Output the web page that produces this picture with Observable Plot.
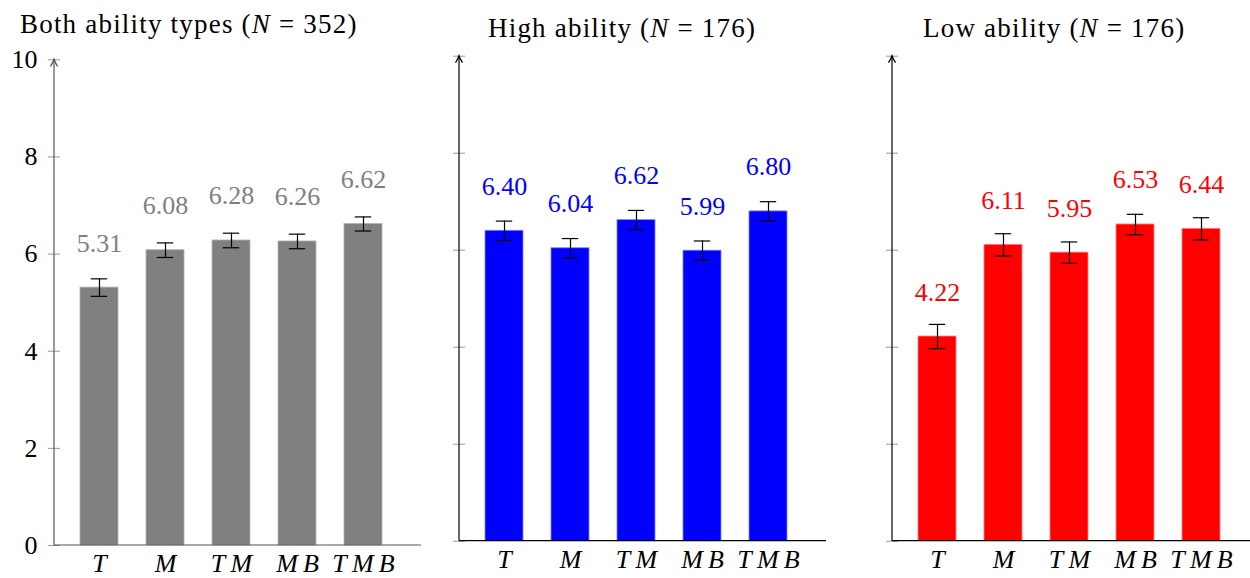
<!DOCTYPE html>
<html><head><meta charset="utf-8">
<script src="https://cdn.jsdelivr.net/npm/d3@7"></script>
<script src="https://cdn.jsdelivr.net/npm/@observablehq/plot@0.6"></script>
<style>
body{margin:0;background:#fff;}
#root{position:relative;width:1250px;height:578px;overflow:hidden;font-family:"Liberation Serif","Tinos","Times New Roman","DejaVu Serif",serif;}
.panel{position:absolute;top:0;width:430px;height:578px;}
.title{position:absolute;font-size:27px;line-height:27px;letter-spacing:1.2px;white-space:nowrap;color:#000;}
.panel svg{position:absolute;top:40px;left:0;}
</style></head><body><div id="root"></div>
<script>
const categories = ["T","M","TM","MB","TMB"];
const bothMeans = [5.31,6.08,6.28,6.26,6.62];
const bothErr = [0.18,0.15,0.15,0.15,0.145];
const highMeans = [6.40,6.04,6.62,5.99,6.80];
const highErr = [0.20,0.20,0.20,0.20,0.20];
const lowMeans = [4.22,6.11,5.95,6.53,6.44];
const lowErr = [0.25,0.23,0.22,0.21,0.23];
const yTicks = [0,2,4,6,8,10];
const titleNames = ["Both ability types", "High ability", "Low ability"];
const titleN = [352, 176, 176];

const FONT = "'Liberation Serif', Tinos, 'Times New Roman', 'DejaVu Serif', serif";

const panels = [
  {means: bothMeans, errs: bothErr, fill: "#808080", edge: "#b3b3b3", label: "#808080", axis: "#555", left: 0, yTop: 19.3, yBottom: 505, showY: true, titleLeft: 20, titleTop: 10.5},
  {means: highMeans, errs: highErr, fill: "#0000ff", edge: "#8080ff", label: "#0000ff", axis: "#000", left: 405, yTop: 15.7, yBottom: 500.7, showY: false, titleLeft: 83, titleTop: 14.9},
  {means: lowMeans, errs: lowErr, fill: "#ff0000", edge: "#ff8080", label: "#ff0000", axis: "#000", left: 838, yTop: 15.7, yBottom: 500.7, showY: false, titleLeft: 85, titleTop: 14.9}
];

const root = document.getElementById("root");
panels.forEach((p, k) => {
  const data = categories.map((c, i) => ({cat: c, mean: p.means[i], err: p.errs[i]}));
  const W = 430, H = 538, ML = 54, MR = 9;
  const marks = [
    Plot.barY(data, {x: "cat", y: "mean", fill: p.fill, stroke: p.edge, strokeWidth: 0.8}),
    Plot.ruleX(data, {x: "cat", y1: d => d.mean - d.err, y2: d => d.mean + d.err, stroke: "#000", strokeWidth: 1.2}),
    Plot.tickY(data, {x: "cat", y: d => d.mean + d.err, insetLeft: 10.8, insetRight: 10.8, stroke: "#000", strokeWidth: 1.2}),
    Plot.tickY(data, {x: "cat", y: d => d.mean - d.err, insetLeft: 10.8, insetRight: 10.8, stroke: "#000", strokeWidth: 1.2}),
    Plot.text(data, {x: "cat", y: "mean", text: d => d.mean.toFixed(2), dy: -36, lineAnchor: "bottom", fill: p.label, fontSize: 26, fontFamily: FONT}),
    Plot.axisY({ticks: yTicks, tickSize: 12, dx: 6, tickFormat: () => "", stroke: "#999", label: null}),
    Plot.axisX({tickSize: 0, tickPadding: 8, fontSize: 26, fontStyle: "italic", fontFamily: FONT, label: null, tickFormat: d => d.split("").join("\u2009")})
  ];
  if (p.showY) marks.push(Plot.axisY({ticks: yTicks, tickSize: 0, tickPadding: 17, fontSize: 26, fontFamily: FONT, label: null}));
  const svg = Plot.plot({
    width: W, height: H,
    marginLeft: ML, marginRight: MR, marginTop: p.yTop, marginBottom: H - p.yBottom,
    x: {type: "band", domain: categories, range: [78, 383.4], paddingInner: 0.425, paddingOuter: 0},
    y: {domain: [0, 10], range: [p.yBottom, p.yTop]},
    style: {fontFamily: FONT, background: "transparent", overflow: "visible", color: "#000"},
    marks
  });
  const sy = svg.scale("y");
  const y0 = sy.apply(0), y10 = sy.apply(10);
  const g = d3.select(svg).append("g").attr("fill", "none").attr("stroke", p.axis).attr("stroke-width", 1.2);
  g.append("line").attr("x1", ML).attr("x2", ML).attr("y1", y0).attr("y2", y10 + 1);
  g.append("line").attr("x1", ML).attr("x2", W - MR).attr("y1", y0).attr("y2", y0);
  g.append("path").attr("d", `M${ML - 3.5},${y10 + 7} Q${ML - 1},${y10 + 3} ${ML},${y10} Q${ML + 1},${y10 + 3} ${ML + 3.5},${y10 + 7}`).attr("stroke-width", 1.3);

  const div = document.createElement("div");
  div.className = "panel";
  div.style.left = p.left + "px";
  const t = document.createElement("div");
  t.className = "title";
  t.style.left = p.titleLeft + "px";
  t.style.top = p.titleTop + "px";
  t.innerHTML = `${titleNames[k]} (<i>N</i> = ${titleN[k]})`;
  div.appendChild(t);
  div.appendChild(svg);
  root.appendChild(div);
});
</script></body></html>
